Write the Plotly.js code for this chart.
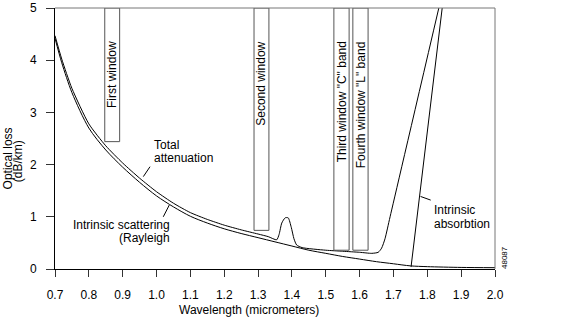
<!DOCTYPE html>
<html>
<head>
<meta charset="utf-8">
<script src="https://cdn.plot.ly/plotly-3.0.1.min.js"></script>
<style>html,body{margin:0;padding:0;background:#fff;}#chart{width:576px;height:336px;}</style>
</head>
<body>
<div id="chart"></div>
<script>
// Intrinsic scattering (Rayleigh) curve
const rayleighWavelength = [0.70,0.72,0.75,0.80,0.85,0.90,0.95,1.00,1.05,1.10,1.15,1.20,1.25,1.30,1.35,1.40,1.45,1.50,1.55,1.60,1.65,1.70,1.75,1.80,1.90,2.00];
const rayleighLoss       = [4.42,3.95,3.38,2.70,2.28,1.95,1.66,1.40,1.19,1.01,0.88,0.77,0.68,0.60,0.52,0.44,0.36,0.30,0.24,0.19,0.14,0.10,0.06,0.045,0.03,0.025];

// Total attenuation curve
const totalWavelength = [0.70,0.72,0.75,0.80,0.85,0.90,0.95,1.00,1.05,1.10,1.15,1.20,1.25,1.30,1.33,1.355,1.362,1.370,1.380,1.389,1.398,1.406,1.414,1.43,1.50,1.55,1.60,1.636,1.655,1.665,1.675,1.69,1.834];
const totalLoss       = [4.47,4.02,3.46,2.78,2.36,2.03,1.74,1.48,1.26,1.08,0.95,0.84,0.75,0.67,0.62,0.56,0.66,0.88,0.98,0.98,0.80,0.58,0.46,0.41,0.36,0.34,0.32,0.30,0.32,0.40,0.58,1.00,5.00];

// Intrinsic absorption
const absorptionWavelength = [1.752, 1.844];
const absorptionLoss       = [0.04, 5.00];

// Transmission windows
const windowLabels = ['First window', 'Second window', 'Third window "C" band', 'Fourth window "L" band'];
const windowStart  = [0.847, 1.288, 1.524, 1.580];
const windowEnd    = [0.891, 1.332, 1.569, 1.625];
const windowBottom = [2.44, 0.74, 0.36, 0.36];
const windowTop    = 5;

// Axis ticks
const xTicks = [0.7,0.8,0.9,1.0,1.1,1.2,1.3,1.4,1.5,1.6,1.7,1.8,1.9,2.0];
const yTicks = [0,1,2,3,4,5];

const FONT = '"Liberation Sans", Arial, Helvetica, sans-serif';
const lineStyle = {color: '#000', width: 1};

const traces = [
  {x: rayleighWavelength, y: rayleighLoss, mode: 'lines', line: Object.assign({shape: 'spline', smoothing: 0.8}, lineStyle), hoverinfo: 'skip'},
  {x: totalWavelength, y: totalLoss, mode: 'lines', line: Object.assign({shape: 'spline', smoothing: 0.6}, lineStyle), hoverinfo: 'skip'},
  {x: absorptionWavelength, y: absorptionLoss, mode: 'lines', line: lineStyle, hoverinfo: 'skip'}
];

const shapes = [];
const annotations = [];
windowLabels.forEach((lab, i) => {
  shapes.push({type: 'rect', xref: 'x', yref: 'y', x0: windowStart[i], x1: windowEnd[i], y0: windowBottom[i], y1: windowTop,
    line: {color: '#555', width: 1}, fillcolor: 'rgba(0,0,0,0)', layer: 'above'});
  annotations.push({xref: 'x', yref: 'y', x: (windowStart[i] + windowEnd[i]) / 2, y: 4.4, text: lab, textangle: -90,
    showarrow: false, xanchor: 'center', yanchor: 'top', font: {family: FONT, size: 12, color: '#000'}});
});

// frame top and right
shapes.push({type: 'line', xref: 'paper', yref: 'paper', x0: 0, x1: 1, y0: 1, y1: 1, line: {color: '#777', width: 1}});
shapes.push({type: 'line', xref: 'paper', yref: 'paper', x0: 1, x1: 1, y0: 0, y1: 1, line: {color: '#777', width: 1}});
// leader lines
shapes.push({type: 'line', xref: 'x', yref: 'y', x0: 0.9807, y0: 1.96, x1: 0.961, y1: 1.77, line: {color: '#000', width: 1}});
shapes.push({type: 'line', xref: 'x', yref: 'y', x0: 1.0199, y0: 1.00, x1: 1.0377, y1: 1.226, line: {color: '#000', width: 1}});
shapes.push({type: 'line', xref: 'x', yref: 'y', x0: 1.81, y0: 1.32, x1: 1.780, y1: 1.39, line: {color: '#000', width: 1}});

const tf = {family: FONT, size: 12, color: '#000'};
function lab(text, x, y, xanchor, opts) {
  annotations.push(Object.assign({xref: 'x', yref: 'y', x: x, y: y, text: text, showarrow: false, xanchor: xanchor, yanchor: 'middle', font: tf}, opts || {}));
}
lab('Total', 0.9866, 2.375, 'left');
lab('attenuation', 0.9866, 2.126, 'left');
lab('Intrinsic scattering', 1.0447, 0.843, 'right');
lab('(Rayleigh', 1.0447, 0.594, 'right');
lab('Intrinsic', 1.8128, 1.130, 'left');
lab('absorbtion', 1.8128, 0.856, 'left');

// axis titles as paper annotations
annotations.push({xref: 'paper', yref: 'paper', x: -0.106, y: 0.425, text: 'Optical loss', textangle: -90, showarrow: false, xanchor: 'center', yanchor: 'middle', font: tf});
annotations.push({xref: 'paper', yref: 'paper', x: -0.0834, y: 0.414, text: '(dB/km)', textangle: -90, showarrow: false, xanchor: 'center', yanchor: 'middle', font: tf});
annotations.push({xref: 'paper', yref: 'paper', x: 0.442, y: -0.157, text: 'Wavelength (micrometers)', showarrow: false, xanchor: 'center', yanchor: 'middle', font: tf});
annotations.push({xref: 'paper', yref: 'paper', x: 1.0227, y: 0.046, text: '48087', textangle: -90, showarrow: false, xanchor: 'center', yanchor: 'middle', font: {family: FONT, size: 8, color: '#000'}});

const layout = {
  width: 576, height: 336,
  margin: {l: 55, r: 81, t: 8, b: 67, pad: 0},
  paper_bgcolor: '#fff', plot_bgcolor: '#fff',
  showlegend: false,
  font: tf,
  xaxis: {range: [0.7, 2.0], tickvals: xTicks, ticktext: xTicks.map(v => v.toFixed(1)), ticks: 'outside', ticklen: 7, tickcolor: '#333', tickwidth: 1,
    ticklabelstandoff: 8,
    showline: true, linecolor: '#000', linewidth: 1, showgrid: false, zeroline: false, tickfont: tf, fixedrange: true},
  yaxis: {range: [0, 5], tickvals: yTicks, ticks: 'outside', ticklen: 8, tickcolor: '#333', tickwidth: 1,
    ticklabelstandoff: 7,
    showline: true, linecolor: '#000', linewidth: 1, showgrid: false, zeroline: false, tickfont: tf, fixedrange: true},
  shapes: shapes,
  annotations: annotations
};

Plotly.newPlot('chart', traces, layout, {staticPlot: true, displayModeBar: false});
</script>
</body>
</html>
